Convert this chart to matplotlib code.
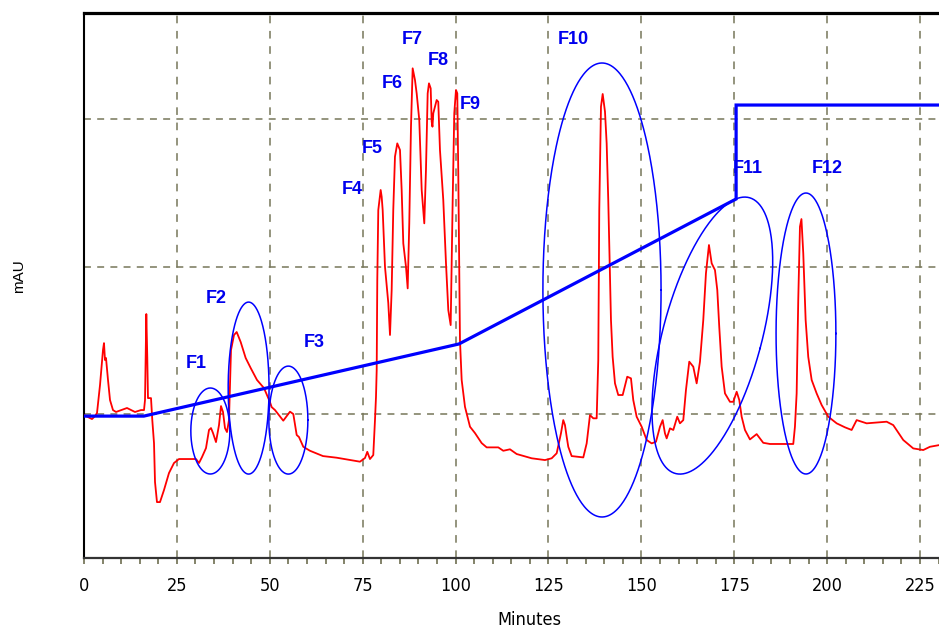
import numpy as np
import matplotlib
matplotlib.use("Agg")
import matplotlib.pyplot as plt
from matplotlib import font_manager

names = {f.name for f in font_manager.fontManager.ttflist}
arial = "Liberation Sans" if "Liberation Sans" in names else "DejaVu Sans"
narrow_props = None
if "Liberation Sans Narrow" in names:
    narrow_props = dict(family="Liberation Sans Narrow")
else:
    cond = [f for f in font_manager.fontManager.ttflist
            if ("Condensed" in f.fname or "Narrow" in f.fname) and f.weight in (400, "normal")
            and f.style == "normal"]
    if cond:
        narrow_props = dict(fname=cond[0].fname)
if narrow_props is None:
    tick_fp = font_manager.FontProperties(family="DejaVu Sans", size=12)
else:
    tick_fp = font_manager.FontProperties(size=13, **narrow_props)

# ---------------- data ----------------
trace_min = [0.0, 2.15, 2.96, 3.50, 4.31, 5.11, 5.38, 5.65, 5.92, 6.46, 7.00, 7.80, 8.61, 11.57, 13.72,
             15.34, 16.15, 16.42, 16.77, 17.03, 17.22, 18.03, 18.38, 18.84, 19.11, 19.64, 20.45, 21.53,
             22.87, 24.22, 25.56, 30.14, 30.95, 31.75, 32.83, 33.64, 34.18, 34.72, 35.52, 36.33, 36.87,
             37.41, 37.94, 38.48, 39.02, 39.56, 40.37, 41.09, 42.17, 43.51, 44.86, 46.56, 48.44, 50.05,
             50.51, 51.40, 53.63, 55.44, 56.33, 57.24, 57.86, 59.02, 60.82, 64.32, 68.00, 74.27, 75.62,
             76.24, 76.96, 77.85, 78.31, 78.58, 78.77, 78.93, 79.20, 79.84, 80.11, 80.38, 81.00, 81.89,
             82.35, 82.80, 83.23, 83.69, 84.31, 85.04, 85.49, 85.93, 86.65, 87.11, 87.54, 88.00, 88.45,
             89.07, 89.53, 90.23, 90.88, 91.58, 92.03, 92.49, 92.84, 93.30, 93.57, 93.78, 94.00, 94.91,
             95.34, 95.80, 96.69, 97.42, 98.04, 98.68, 99.22, 99.65, 100.11, 100.46, 100.73, 100.92,
             101.18, 101.64, 102.53, 103.88, 105.22, 107.02, 108.37, 111.49, 112.84, 114.64, 116.44,
             120.48, 124.06, 125.86, 127.21, 128.36, 128.98, 129.44, 129.90, 130.33, 131.24, 134.37,
             135.28, 136.17, 137.06, 137.97, 138.40, 138.67, 139.13, 139.59, 140.21, 140.66, 141.09,
             141.55, 141.82, 142.27, 142.90, 143.78, 144.97, 146.20, 147.20, 147.82, 148.73, 150.08,
             151.43, 152.77, 153.93, 155.01, 155.73, 156.35, 156.81, 157.70, 158.59, 159.66, 160.39,
             161.28, 162.00, 162.89, 163.97, 164.88, 165.77, 166.66, 167.38, 168.19, 168.92, 169.81,
             170.43, 170.96, 171.61, 172.50, 173.84, 174.73, 175.65, 176.35, 176.99, 177.88, 179.22,
             181.03, 182.80, 184.61, 190.88, 191.33, 191.79, 192.22, 192.68, 193.08, 193.57, 194.21,
             194.91, 195.83, 197.17, 198.52, 200.30, 202.56, 204.79, 206.59, 207.94, 210.63, 216.01,
             217.79, 220.48, 223.17, 225.86, 227.66, 230.27]
trace_mau = [-0.7, -3.4, -1.4, 0.7, 19.7, 43.4, 48.1, 36.6, 38.0, 23.1, 9.5, 2.7, 1.4, 4.1, 1.4,
             2.7, 2.7, 9.5, 67.8, 38.6, 10.8, 10.8, -4.1, -19.7, -46.1, -59.7, -59.7, -51.5,
             -40.0, -33.2, -30.5, -30.5, -33.2, -29.2, -23.1, -10.8, -9.5, -12.9, -19.0, -7.5, 5.4,
             1.4, -9.5, -12.2, -4.1, 43.4, 53.6, 55.6, 48.8, 38.0, 31.2, 23.1, 17.6, 8.1,
             4.7, 2.7, -4.5, 1.6, 0.0, -14.2, -15.6, -22.2, -24.9, -28.5, -29.6, -32.3, -29.8,
             -25.6, -30.5, -27.8, -4.1, 11.5, 29.8, 90.9, 138.3, 151.9, 147.3, 138.3, 99.9, 75.3,
             53.6, 84.1, 138.3, 174.5, 183.5, 179.0, 151.9, 115.7, 99.9, 85.2, 129.5, 194.8, 234.4,
             226.5, 217.4, 199.3, 151.9, 129.3, 165.4, 217.4, 224.2, 220.8, 198.2, 194.8, 203.9, 212.9,
             211.7, 179.0, 145.1, 102.2, 70.5, 60.3, 145.1, 203.9, 219.7, 217.4, 163.2, 114.6,
             50.2, 23.1, 4.9, -8.6, -12.9, -19.7, -22.6, -22.6, -24.9, -23.9, -27.1,
             -30.0, -31.2, -30.0, -26.6, -13.1, -4.1, -7.5, -15.4, -22.2, -28.5, -29.4,
             -19.9, -0.7, -2.9, -2.9, 36.6, 138.3, 208.4, 217.0, 205.0, 183.5, 145.1,
             95.4, 63.7, 38.8, 20.8, 12.9, 12.9, 25.3, 24.2, 9.5, -1.8, -8.6,
             -17.6, -19.9, -18.8, -8.6, -4.1, -13.1, -16.5, -9.7, -10.8, -1.8, -6.3,
             -4.1, 16.3, 35.5, 32.1, 20.8, 35.5, 63.7, 95.4, 114.6, 102.2, 97.6,
             84.1, 59.2, 32.1, 14.0, 8.3, 8.3, 15.1, 9.5, -1.8, -10.8, -17.2,
             -13.6, -19.5, -20.3, -20.3, -8.6, 14.0, 77.3, 127.0, 132.2, 109.0, 63.7,
             38.8, 23.1, 14.0, 6.1, -1.8, -6.3, -9.0, -10.8, -4.1, -6.3, -5.2,
             -7.5, -17.6, -23.3, -24.4, -22.2, -21.0]

gradient_min = [0.0, 16.1, 100.9, 175.5, 175.5, 231.0]
gradient_val = [-1.4, -1.4, 47.5, 145.8, 209.5, 209.5]

fraction_labels = ["F1", "F2", "F3", "F4", "F5", "F6", "F7", "F8", "F9", "F10", "F11", "F12"]
label_min = [30.1, 35.5, 61.9, 72.1, 77.5, 82.9, 88.3, 95.3, 103.9, 131.6, 178.7, 199.9]
label_mau = [34.6, 78.6, 48.8, 152.5, 180.3, 224.4, 254.2, 240.0, 210.2, 253.6, 166.8, 166.8]

# circled fractions: centre, width (min), height (mAU), tilt (deg, clockwise on screen)
ell_names = ["F1", "F2", "F3", "F10", "F11", "F12"]
ell_cx = [34.0, 44.3, 55.0, 139.4, 169.1, 194.3]
ell_cy = [-11.5, 17.6, -4.1, 84.1, 53.2, 54.6]
ell_w = [10.5, 11.0, 10.5, 31.8, 26.6, 16.1]
ell_h = [58.3, 116.6, 73.2, 307.8, 193.6, 190.5]
ell_tilt = [0, 0, 0, 0, 15, 0]

x_ticks = [0, 25, 50, 75, 100, 125, 150, 175, 200, 225]

# ---------------- figure ----------------
plt.rcParams["lines.scale_dashes"] = False
W, H = 939, 629
fig = plt.figure(figsize=(W / 100, H / 100), dpi=100)
ax = fig.add_axes([84 / W, (H - 558) / H, (W - 84) / W, (558 - 13) / H])
ax.set_xlim(0, 230.1)
ax.set_ylim(-97.6, 271.9)

grid_col = "#77775a"
for xv in x_ticks[1:]:
    ax.axvline(xv, color=grid_col, lw=1.1, dashes=(5.5, 5.5), zorder=1)
for yv in [0, 100, 200]:
    ax.axhline(yv, color=grid_col, lw=1.1, dashes=(5.0, 4.5), zorder=1)

ax.plot(trace_min, trace_mau, color="#ff0000", lw=1.3, zorder=3)
ax.plot(gradient_min, gradient_val, color="#0000ff", lw=2.3, zorder=4, solid_joinstyle="miter")

# ellipses
fig.canvas.draw()
p0 = ax.transData.transform((0, 0))
p1 = ax.transData.transform((1, 1))
sx, sy = p1[0] - p0[0], p1[1] - p0[1]
t = np.linspace(0, 2 * np.pi, 400)
for cx, cy, w, h, tilt in zip(ell_cx, ell_cy, ell_w, ell_h, ell_tilt):
    b = w * sx / 2
    a = h * sy / 2
    th = np.deg2rad(tilt)
    lx, ly = b * np.cos(t), a * np.sin(t)
    dx = lx * np.cos(th) + ly * np.sin(th)
    dy = -lx * np.sin(th) + ly * np.cos(th)
    ax.plot(cx + dx / sx, cy + dy / sy, color="#0000ff", lw=1.1, zorder=5)

for lab, xm, ym in zip(fraction_labels, label_min, label_mau):
    ax.text(xm, ym, lab, color="#0000ee", fontsize=13, fontweight="bold",
            family=arial, ha="center", va="center", zorder=6)

# axes styling
ax.spines["right"].set_visible(False)
ax.spines["top"].set_linewidth(2.3)
ax.spines["top"].set_color("black")
ax.spines["left"].set_linewidth(1.5)
ax.spines["left"].set_color("black")
ax.spines["bottom"].set_linewidth(1.6)
ax.spines["bottom"].set_color("#333333")

ax.set_xticks(x_ticks)
ax.set_xticks(np.arange(0, 231, 5), minor=True)
ax.set_xticklabels([str(v) for v in x_ticks])
for lbl in ax.get_xticklabels():
    lbl.set_fontproperties(tick_fp)
ax.tick_params(axis="x", which="both", direction="out", length=4, width=1.2,
               color="#6e6e50", pad=10)
ax.set_yticks([])

fig.text(529 / W, 1 - 620 / H, "Minutes", fontproperties=tick_fp, ha="center", va="center")
fig.text(19 / W, 1 - 276 / H, "mAU", family=arial, fontsize=11, rotation=90,
         ha="center", va="center")

fig.savefig("out.png", dpi=100)
